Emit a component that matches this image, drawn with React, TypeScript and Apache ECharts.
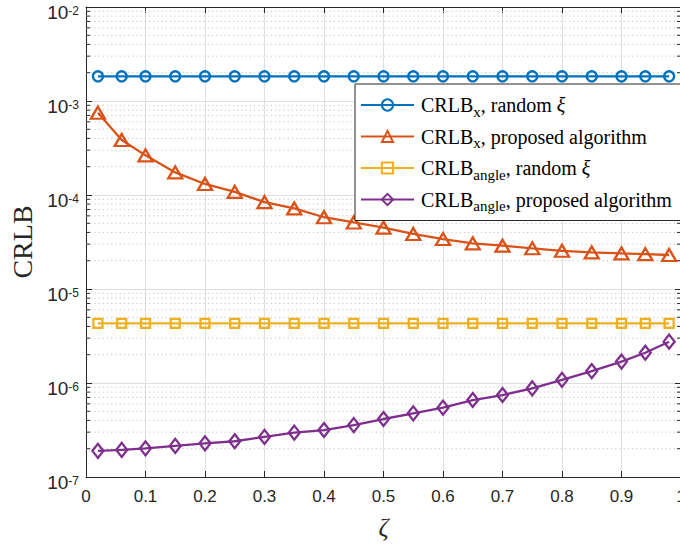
import React, { useEffect, useRef } from 'react';
import * as echarts from 'echarts';

const zeta = [0.02, 0.06, 0.1, 0.15, 0.2, 0.25, 0.3, 0.35, 0.4, 0.45, 0.5, 0.55, 0.6, 0.65, 0.7, 0.75, 0.8, 0.85, 0.9, 0.94, 0.98];
const crlbXRandom = [1.83e-3, 1.83e-3, 1.83e-3, 1.83e-3, 1.83e-3, 1.83e-3, 1.83e-3, 1.83e-3, 1.83e-3, 1.83e-3, 1.83e-3, 1.83e-3, 1.83e-3, 1.83e-3, 1.83e-3, 1.83e-3, 1.83e-3, 1.83e-3, 1.83e-3, 1.83e-3, 1.83e-3];
const crlbXProposed = [7.5e-4, 3.85e-4, 2.64e-4, 1.74e-4, 1.31e-4, 1.08e-4, 8.4e-5, 7.2e-5, 5.8e-5, 5.1e-5, 4.5e-5, 3.85e-5, 3.4e-5, 3.06e-5, 2.89e-5, 2.71e-5, 2.55e-5, 2.45e-5, 2.39e-5, 2.35e-5, 2.3e-5];
const crlbAngleRandom = [4.3e-6, 4.3e-6, 4.3e-6, 4.3e-6, 4.3e-6, 4.3e-6, 4.3e-6, 4.3e-6, 4.3e-6, 4.3e-6, 4.3e-6, 4.3e-6, 4.3e-6, 4.3e-6, 4.3e-6, 4.3e-6, 4.3e-6, 4.3e-6, 4.3e-6, 4.3e-6, 4.3e-6];
const crlbAngleProposed = [1.9e-7, 1.94e-7, 2.02e-7, 2.14e-7, 2.28e-7, 2.4e-7, 2.67e-7, 2.96e-7, 3.16e-7, 3.57e-7, 4.14e-7, 4.76e-7, 5.46e-7, 6.59e-7, 7.45e-7, 8.77e-7, 1.08e-6, 1.34e-6, 1.69e-6, 2.1e-6, 2.75e-6];

const seriesNames = ['CRLB_x, random ξ', 'CRLB_x, proposed algorithm', 'CRLB_angle, random ξ', 'CRLB_angle, proposed algorithm'];
const legendRich = [
  'CRLB{s|x}, random {i|ξ}',
  'CRLB{s|x}, proposed algorithm',
  'CRLB{s|angle}, random {i|ξ}',
  'CRLB{s|angle}, proposed algorithm',
];
const colors = ['#0072BD', '#D95319', '#EDB120', '#7E2F8E'];
const symbols = ['circle', 'triangle', 'rect', 'diamond'];
const symbolSizes: any[] = [10, [14, 12], 9, [11, 14]];

const yMin = 1e-7;
const yMax = 1e-2;
const xMin = 0;
const xMax = 1;
const xInterval = 0.1;
const decades = [-7, -6, -5, -4, -3];
const minorFactors = [2, 3, 4, 5, 6, 7, 8, 9];

const AXIS = '#262626';
const SANS = 'Liberation Sans';
const SERIF = 'Liberation Serif';

export default function App() {
  const ref = useRef<HTMLDivElement>(null);
  useEffect(() => {
    const chart = echarts.init(ref.current!, null, { renderer: 'svg' });
    const values = [crlbXRandom, crlbXProposed, crlbAngleRandom, crlbAngleProposed];
    const minorVals: number[][] = [];
    decades.forEach((d) => minorFactors.forEach((k) => minorVals.push([0.5, k * Math.pow(10, d)])));

    const lineSeries = values.map((arr, si) => ({
      type: 'line',
      name: seriesNames[si],
      data: zeta.map((x, i) => [x, arr[i]]),
      symbol: symbols[si],
      symbolSize: symbolSizes[si],
      showAllSymbol: true,
      lineStyle: { color: colors[si], width: 2.3 },
      itemStyle: { color: 'rgba(255,255,255,0)', borderColor: colors[si], borderWidth: 2.3 },
      emphasis: { disabled: true },
      z: 3,
    }));

    const option: any = {
      animation: false,
      backgroundColor: '#ffffff',
      grid: { left: 86, top: 7, width: 595, height: 470, containLabel: false, outerBoundsMode: 'none' },
      xAxis: [
        {
          type: 'value',
          min: xMin,
          max: xMax,
          interval: xInterval,
          position: 'bottom',
          name: 'ζ',
          nameLocation: 'middle',
          nameGap: 38,
          nameTextStyle: { fontFamily: SERIF, fontStyle: 'italic', fontSize: 25, color: AXIS },
          axisLine: { show: true, onZero: false, lineStyle: { color: AXIS, width: 1 } },
          axisTick: { show: true, inside: true, length: 6, lineStyle: { color: AXIS } },
          axisLabel: { fontFamily: SANS, fontSize: 17, color: AXIS, margin: 11 },
          splitLine: { show: true, lineStyle: { color: '#dfdfdf', width: 1 } },
        },
        {
          type: 'value',
          min: xMin,
          max: xMax,
          interval: xInterval,
          position: 'top',
          axisLine: { show: true, onZero: false, lineStyle: { color: AXIS, width: 1 } },
          axisTick: { show: true, inside: true, length: 6, lineStyle: { color: AXIS } },
          axisLabel: { show: false },
          splitLine: { show: false },
        },
      ],
      yAxis: [
        {
          type: 'log',
          logBase: 10,
          min: yMin,
          max: yMax,
          position: 'left',
          name: 'CRLB',
          nameLocation: 'middle',
          nameRotate: 90,
          nameGap: 50,
          nameTextStyle: { fontFamily: SERIF, fontSize: 28, color: AXIS },
          axisLine: { show: true, onZero: false, lineStyle: { color: AXIS, width: 1 } },
          axisTick: { show: true, inside: true, length: 6, lineStyle: { color: AXIS } },
          axisLabel: {
            margin: 7,
            color: AXIS,
            fontFamily: SANS,
            fontSize: 17,
            formatter: (v: number) => `{b|10}{s|${Math.round(Math.log10(v))}}`,
            rich: {
              b: { fontFamily: SANS, fontSize: 19, color: AXIS, lineHeight: 19, padding: [10, 0, 0, 0] },
              s: { fontFamily: SANS, fontSize: 12, color: AXIS, lineHeight: 12, verticalAlign: 'top', padding: [7, 0, 0, 0] },
            },
          },
          splitLine: { show: true, lineStyle: { color: '#dfdfdf', width: 1 } },
        },
        {
          type: 'log',
          logBase: 10,
          min: yMin,
          max: yMax,
          position: 'right',
          axisLine: { show: true, onZero: false, lineStyle: { color: AXIS, width: 1 } },
          axisTick: { show: true, inside: true, length: 6, lineStyle: { color: AXIS } },
          axisLabel: { show: false },
          splitLine: { show: false },
        },
      ],
      legend: {
        orient: 'vertical',
        left: 355,
        top: 84,
        padding: [7, 45, 7, 5],
        itemGap: 3.5,
        itemWidth: 53,
        itemHeight: 14,
        selectedMode: false,
        backgroundColor: '#ffffff',
        borderColor: AXIS,
        borderWidth: 1,
        borderRadius: 0,
        data: seriesNames,
        formatter: (name: string) => legendRich[seriesNames.indexOf(name)],
        textStyle: {
          fontFamily: SERIF,
          fontSize: 20,
          color: '#000',
          lineHeight: 24,
          padding: [0, 0, 0, 2],
          rich: {
            s: { fontFamily: SERIF, fontSize: 15, color: '#000', lineHeight: 15, padding: [13, 0, 0, 0] },
            i: { fontFamily: SERIF, fontSize: 20, fontStyle: 'italic', color: '#000', lineHeight: 24 },
          },
        },
        z: 10,
      },
      series: [
        {
          type: 'custom',
          name: 'minor',
          xAxisIndex: 0,
          yAxisIndex: 0,
          data: minorVals,
          silent: true,
          z: 1,
          renderItem: (params: any, api: any) => {
            const v = api.value(1);
            const p1 = api.coord([xMin, v]);
            const p2 = api.coord([xMax, v]);
            return {
              type: 'group',
              children: [
                {
                  type: 'line',
                  shape: { x1: p1[0], y1: p1[1], x2: p2[0], y2: p2[1] },
                  style: { stroke: '#c4c4c4', lineWidth: 1, lineDash: [1.2, 3] },
                },
                {
                  type: 'line',
                  shape: { x1: p1[0], y1: p1[1], x2: p1[0] + 4, y2: p1[1] },
                  style: { stroke: AXIS, lineWidth: 1 },
                },
                {
                  type: 'line',
                  shape: { x1: p2[0] - 4, y1: p2[1], x2: p2[0], y2: p2[1] },
                  style: { stroke: AXIS, lineWidth: 1 },
                },
              ],
            };
          },
        },
        ...lineSeries,
      ],
    };
    chart.setOption(option);
    return () => chart.dispose();
  }, []);
  return (
    <div
      ref={ref}
      style={{ position: 'fixed', left: 0, top: 0, width: 680, height: 547, background: '#fff' }}
    />
  );
}
